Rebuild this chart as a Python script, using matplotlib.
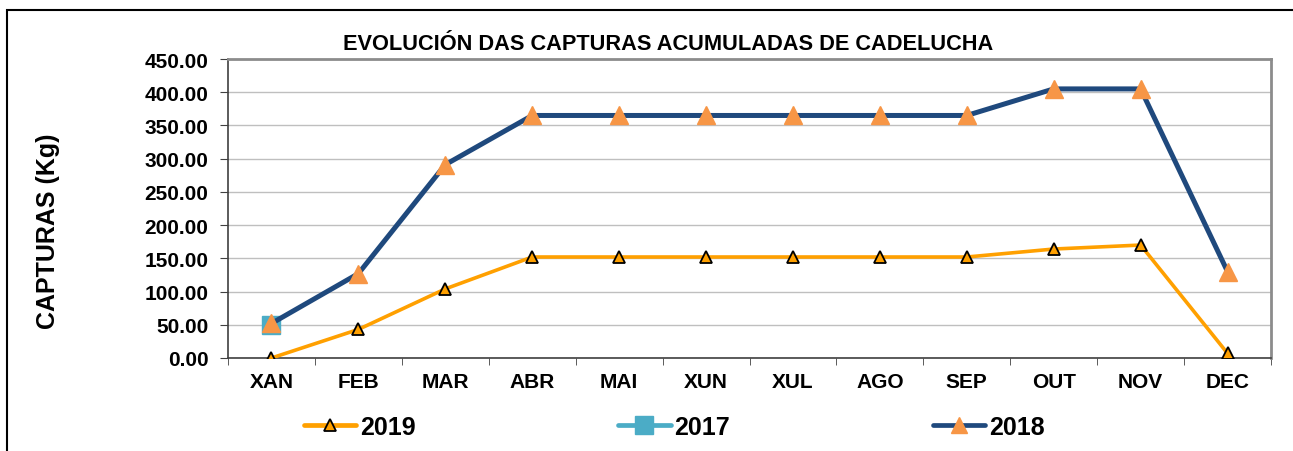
import matplotlib
matplotlib.use("Agg")
import matplotlib.pyplot as plt
from matplotlib.patches import Rectangle

# data
months = ["XAN", "FEB", "MAR", "ABR", "MAI", "XUN", "XUL", "AGO", "SEP", "OUT", "NOV", "DEC"]
capt_2019 = [0, 43, 104, 152, 152, 152, 152, 152, 152, 164, 170, 7]
capt_2017 = [50]
capt_2018 = [52, 127, 291, 365, 365, 365, 365, 365, 365, 405, 405, 130]
yticks = [0, 50, 100, 150, 200, 250, 300, 350, 400, 450]

plt.rcParams['font.family'] = ['Liberation Sans', 'DejaVu Sans']
plt.rcParams['font.weight'] = 'bold'

fig = plt.figure(figsize=(12.93, 4.52), dpi=100)
ax = fig.add_axes([228/1293, 1 - 359/452, (1271-228)/1293, (359-60)/452])

x = list(range(len(months)))
ax.plot(x, capt_2019, color='#FFA000', lw=2.6, marker='^', ms=8,
        mfc='#FFA000', mec='black', mew=1.3, label='2019', zorder=3)
ax.plot(x[:len(capt_2017)], capt_2017, color='#4BACC6', lw=3.4, marker='s', ms=13,
        mfc='#4BACC6', mec='#4BACC6', label='2017', zorder=4)
ax.plot(x, capt_2018, color='#1F497D', lw=3.6, marker='^', ms=13,
        mfc='#F79646', mec='#F79646', label='2018', zorder=5)

ax.set_xlim(-0.5, len(months) - 0.5)
ax.set_ylim(0, 450)
ax.set_yticks(yticks)
ax.set_yticklabels([f"{v:.2f}" for v in yticks], fontsize=15, fontweight='bold')
ax.set_xticks(x)
ax.set_xticklabels(months, fontsize=15, fontweight='bold')
ax.set_xticks([i + 0.5 for i in range(-1, len(months))], minor=True)
ax.tick_params(axis='x', which='major', length=0, pad=10)
ax.tick_params(axis='x', which='minor', length=5, direction='out', color='#404040')
ax.tick_params(axis='y', length=6, direction='out', color='#404040', pad=8)
ax.yaxis.grid(True, color='#BFBFBF', lw=1)
ax.set_axisbelow(True)
for side in ['left', 'bottom']:
    ax.spines[side].set_color('#404040')
    ax.spines[side].set_linewidth(1.2)
for side in ['top', 'right']:
    ax.spines[side].set_color('#8C8C8C')
    ax.spines[side].set_linewidth(2)

ax.set_ylabel("CAPTURAS (Kg)", fontsize=18, fontweight='bold', labelpad=0)
ax.yaxis.set_label_coords(-168/1043, 0.428)

fig.text(668/1293, 1 - 45/452, "EVOLUCIÓN DAS CAPTURAS ACUMULADAS DE CADELUCHA",
         ha='center', va='center', fontsize=15.7, fontweight='bold')

leg = fig.legend(loc='center', bbox_to_anchor=(674/1293, 1 - 428/452), ncol=3,
                 frameon=False, handlelength=2.1, handletextpad=0.15,
                 columnspacing=8.1, markerscale=1.0,
                 prop={'weight': 'bold', 'size': 18})
for ln in leg.get_lines():
    ln.set_linewidth(3.4)
    ln.set_solid_capstyle('round')
leg.get_lines()[2].set_markersize(11)

fig.patches.append(Rectangle((7/1293, -0.05), 1.2, 1 - 11/452 + 0.05,
                             transform=fig.transFigure, fill=False,
                             edgecolor='black', lw=1.5))

fig.savefig("out.png", dpi=100)
